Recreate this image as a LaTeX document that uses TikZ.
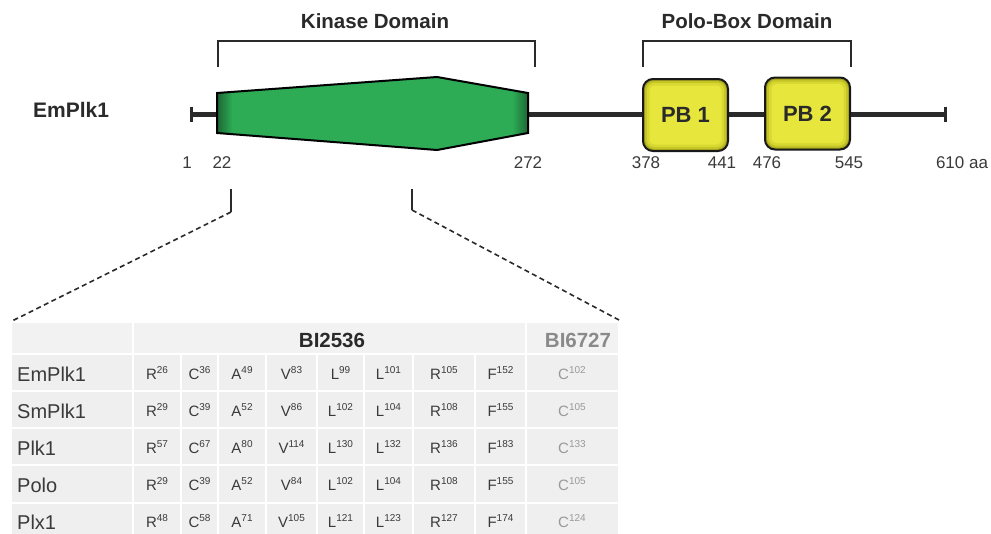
\documentclass[tikz,border=0pt]{standalone}
\usepackage{fontspec}
\setmainfont{Liberation Sans}
\usetikzlibrary{calc}
\definecolor{kgreen}{HTML}{2EAC55}
\definecolor{kdark}{HTML}{1C6634}
\definecolor{pbedge}{HTML}{A2A21E}
\definecolor{pbmidA}{HTML}{C4C426}
\definecolor{pbmidB}{HTML}{D8D832}
\definecolor{pbin}{HTML}{E6E63C}
\definecolor{cellgray}{HTML}{EFEFEF}
\definecolor{headgray}{HTML}{F2F2F2}
\definecolor{txtdark}{HTML}{2A2A2A}
\definecolor{txtmid}{HTML}{3A3A3A}
\definecolor{txtgray}{HTML}{999999}
\definecolor{headlight}{HTML}{8A8A8A}
\pgfdeclarehorizontalshading{kinshade}{100bp}{color(0bp)=(kdark); color(25bp)=(kdark); color(27.5bp)=(kgreen); color(72.5bp)=(kgreen); color(75bp)=(kdark); color(100bp)=(kdark)}
\newcommand{\sups}[1]{\raisebox{5.3pt}{\fontsize{10pt}{11pt}\selectfont #1}}
\begin{document}
\begin{tikzpicture}[x=1pt,y=-1pt,
  headtxt/.style={font=\fontsize{20.5pt}{22pt}\selectfont\bfseries, text=txtdark, inner sep=0pt},
  numlab/.style={font=\fontsize{17pt}{19pt}\selectfont, text=txtmid, inner sep=0pt},
  backbone/.style={line width=5pt, draw=txtdark},
  endtick/.style={line width=3pt, draw=txtdark},
  bracket/.style={line width=2.5pt, draw=txtdark},
  kinase/.style={shading=kinshade, draw=black, line width=2pt, line join=miter},
  pbnode/.style={draw=black!90, line width=2pt, rounded corners=10pt, fill=pbedge,
    minimum width=85pt, minimum height=72pt, inner sep=0pt,
    font=\fontsize{22pt}{24pt}\selectfont\bfseries, text=txtdark,
    path picture={
      \foreach \i/\r/\c in {2/9/pbmidA,4/7/pbmidB,6.5/5/pbin}
        \fill[\c, rounded corners=\r pt] ($(path picture bounding box.south west)+(\i pt,\i pt)$) rectangle ($(path picture bounding box.north east)+(-\i pt,-\i pt)$);
    }},
  zoomline/.style={line width=2pt, draw=txtdark},
  zoomdash/.style={line width=1.6pt, draw=txtdark, dash pattern=on 5pt off 3.5pt},
  cell/.style={fill=cellgray},
  hcell/.style={fill=headgray},
  rowlab/.style={font=\fontsize{20pt}{22pt}\selectfont, text=txtmid, inner sep=0pt, anchor=west},
  res/.style={font=\fontsize{15pt}{17pt}\selectfont, inner sep=0pt},
  tabhead/.style={font=\fontsize{20.5pt}{22pt}\selectfont\bfseries, inner sep=0pt}
]
\useasboundingbox[fill=white] (0,0) rectangle (991,533);

% ---------- top: domain structure ----------
\node[headtxt] (kdlab) at (375,21) {Kinase Domain};
\node[headtxt] (pbdlab) at (747,21) {Polo-Box Domain};
\node[headtxt, font=\fontsize{21pt}{23pt}\selectfont\bfseries, anchor=west] (emlab) at (33,110) {EmPlk1};

\coordinate (kbl) at (218,67); \coordinate (kbr) at (535,67);
\draw[bracket] (kbl) -- (218,41) -- (535,41) -- (kbr);
\coordinate (pbl) at (643,67); \coordinate (pbr) at (851,67);
\draw[bracket] (pbl) -- (643,41) -- (851,41) -- (pbr);

\coordinate (aa1) at (191,114);
\coordinate (aa610) at (945,114);
\draw[backbone] (aa1) -- (aa610);
\draw[endtick] (191,106.5) -- (191,121.5);
\draw[endtick] (945,106.5) -- (945,121.5);

\shadedraw[kinase] (217,93) -- (437,77) -- (528,93) -- (528,133) -- (437,150) -- (217,133) -- cycle;

\node[pbnode] (pb1) at (685.5,115) {PB 1};
\node[pbnode] (pb2) at (807.5,113.5) {PB 2};

\node[numlab] (n1) at (187,163) {1};
\node[numlab] (n22) at (222,163) {22};
\node[numlab] (n272) at (528,163) {272};
\node[numlab] (n378) at (646,163) {378};
\node[numlab] (n441) at (722,163) {441};
\node[numlab] (n476) at (767,163) {476};
\node[numlab] (n545) at (849,163) {545};
\node[numlab] (n610) at (962,163) {610 aa};

% ---------- zoom lines ----------
\coordinate (zla) at (231,189);
\coordinate (zlb) at (231,212);
\coordinate (zra) at (412,189);
\coordinate (zrb) at (412,210);
\coordinate (ttl) at (12,321);
\coordinate (ttr) at (619,320);
\draw[zoomline] (zla) -- (zlb);
\draw[zoomline] (zra) -- (zrb);
\draw[zoomdash] (zlb) -- (ttl);
\draw[zoomdash] (zrb) -- (ttr);

% ---------- table ----------
\fill[hcell] (12,323) rectangle (131.8,352.8);
\fill[hcell] (134.2,323) rectangle (524.8,352.8);
\fill[hcell] (527.2,323) rectangle (618,352.8);
\foreach \ya/\yb in {354/391,391/428,428/465,465/503,503/540}{
  \foreach \xa/\xb in {10.8/133,133/181,181/218,218/266,266/317,317/364,364/413,413/475,475/526,526/619.2}
    \fill[cell] (\xa+1.2,\ya+1.2) rectangle (\xb-1.2,\yb-1.2);
}
\node[tabhead, text=txtdark] (bi25) at (332,340) {BI2536};
\node[tabhead, text=headlight] (bi67) at (578,340) {BI6727};

\foreach \lab/\yc/\nums [count=\r] in {
  EmPlk1/373/{R/26,C/36,A/49,V/83,L/99,L/101,R/105,F/152,C/102},
  SmPlk1/410/{R/29,C/39,A/52,V/86,L/102,L/104,R/108,F/155,C/105},
  Plk1/447/{R/57,C/67,A/80,V/114,L/130,L/132,R/136,F/183,C/133},
  Polo/484/{R/29,C/39,A/52,V/84,L/102,L/104,R/108,F/155,C/105},
  Plx1/521/{R/48,C/58,A/71,V/105,L/121,L/123,R/127,F/174,C/124}}{
  \node[rowlab] (row\r) at (17,\yc+1) {\lab};
  \foreach \aa/\n [count=\j] in \nums {
    \pgfmathsetmacro\cx{{157,199.5,242,291.5,340.5,388.5,444,500.5,572}[\j-1]}
    \ifnum\j=9 \def\rc{txtgray}\else\def\rc{txtmid}\fi
    \node[res, text=\rc] (r\r c\j) at (\cx,\yc) {\aa\sups{\n}};
  }
}
\end{tikzpicture}
\end{document}
